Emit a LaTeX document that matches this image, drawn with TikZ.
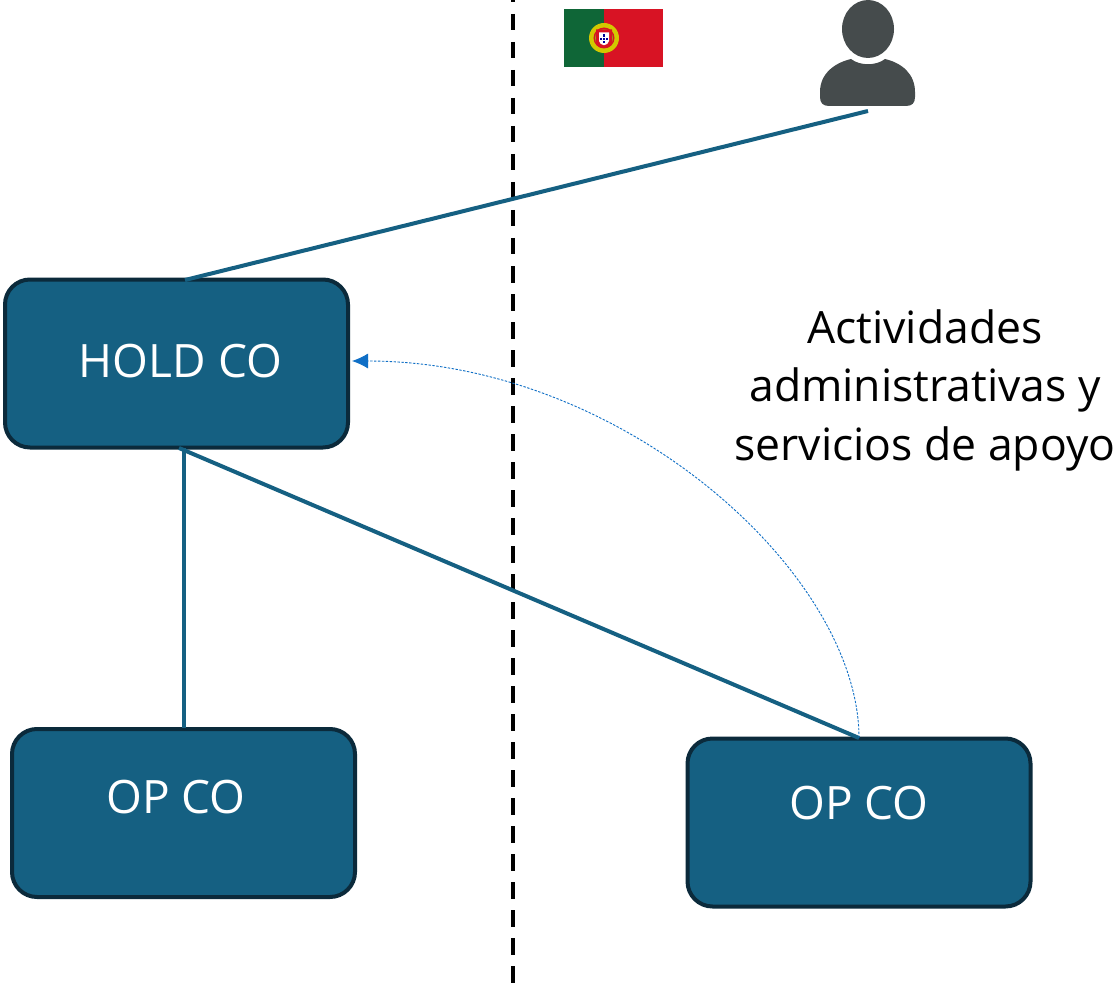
\documentclass[tikz,border=0pt]{standalone}
\usepackage{fontspec}
\setmainfont{Open Sans}
\usetikzlibrary{arrows.meta}
\definecolor{boxfill}{HTML}{156082}
\definecolor{boxline}{HTML}{0B2A3B}
\definecolor{iconcol}{HTML}{454B4C}
\definecolor{arrowcol}{HTML}{0F6FC6}
\definecolor{flaggreen}{HTML}{0F6637}
\definecolor{flagred}{HTML}{D81324}
\definecolor{flagyellow}{HTML}{D2C800}
\tikzset{
  box/.style={draw=boxline,fill=boxfill,line width=4pt,rounded corners=25pt,minimum width=343pt,minimum height=168pt,inner sep=0pt},
  boxlabel/.style={text=white,font=\fontsize{46}{54}\selectfont,inner sep=0pt},
  link/.style={draw=boxfill,line width=4pt},
  caption/.style={align=center,font=\fontsize{44.5}{58.5}\selectfont,text=black,inner sep=0pt},
  pip/.style={fill=blue!60!black}
}
\begin{document}
\begin{tikzpicture}[x=1pt,y=-1pt]
\useasboundingbox (0,0) rectangle (1118,984);
\fill[white] (0,0) rectangle (1118,984);
% divider
\coordinate (divtop) at (513.3,0);
\coordinate (divbot) at (513.3,983);
\draw[black,line width=4pt,dash pattern=on 16.5pt off 11.5pt,dash phase=14pt] (divtop) -- (divbot);
% boxes
\node[box] (hold) at (176.5,363.5) {};
\node[box] (opa) at (183.5,813) {};
\node[box] (opb) at (859,822.5) {};
\node[boxlabel] (holdtext) at (180.5,361) {HOLD CO};
\node[boxlabel] (opatext) at (176,797) {OP CO};
\node[boxlabel] (opbtext) at (859,803) {OP CO};
% caption
\node[caption] (cap) at (925,390) {Actividades\\administrativas y\\servicios de apoyo};
% flag
\fill[flaggreen] (564,9) rectangle (604,67);
\fill[flagred] (604,9) rectangle (663,67);
\fill[flagyellow] (604,38) circle (15pt);
\fill[flagred] (604,38) circle (10.5pt);
\fill[flagyellow!70!flaggreen] (604,38) circle (9pt);
\fill[flagred] (596,29.5) -- (612,29.5) -- (612,42) .. controls (612,46) and (608,47.5) .. (604,48) .. controls (600,47.5) and (596,46) .. (596,42) -- cycle;
\fill[white] (599,32.5) -- (609,32.5) -- (609,41) .. controls (609,43.5) and (606,45) .. (604,45.2) .. controls (602,45) and (599,43.5) .. (599,41) -- cycle;
\fill[pip] (602.8,34.2) rectangle (605.2,36.6);
\fill[pip] (602.8,37.6) rectangle (605.2,40);
\fill[pip] (602.8,41) rectangle (605.2,43.4);
\fill[pip] (599.8,37.6) rectangle (602,40);
\fill[pip] (606,37.6) rectangle (608.2,40);
% person
\fill[iconcol] (868,29) ellipse (26pt and 29pt);
\fill[iconcol] (851,59) .. controls (860,66) and (876,66) .. (885,59)
  .. controls (902,63) and (915,74) .. (915,92)
  -- (915,97) .. controls (915,103) and (912,106) .. (906,106)
  -- (829,106) .. controls (823,106) and (820,103) .. (820,97)
  -- (820,92) .. controls (820,74) and (834,63) .. (851,59) -- cycle;
\coordinate (person) at (868,111);
% connector ends
\coordinate (holdtop) at (185,280);
\coordinate (holdbota) at (184,448);
\coordinate (holdbotb) at (179,448);
\coordinate (opatop) at (184,728);
\coordinate (opbtop) at (859,738);
\coordinate (holdright) at (352,361);
\draw[link] (holdtop) -- (person);
\draw[link] (holdbota) -- (opatop);
\draw[link] (holdbotb) -- (opbtop);
\draw[arrowcol,line width=0.9pt,dash pattern=on 2.4pt off 1.5pt,-{Latex[length=16pt,width=15pt]}] (opbtop) .. controls (859,575) and (625,361) .. (holdright);
\end{tikzpicture}
\end{document}
